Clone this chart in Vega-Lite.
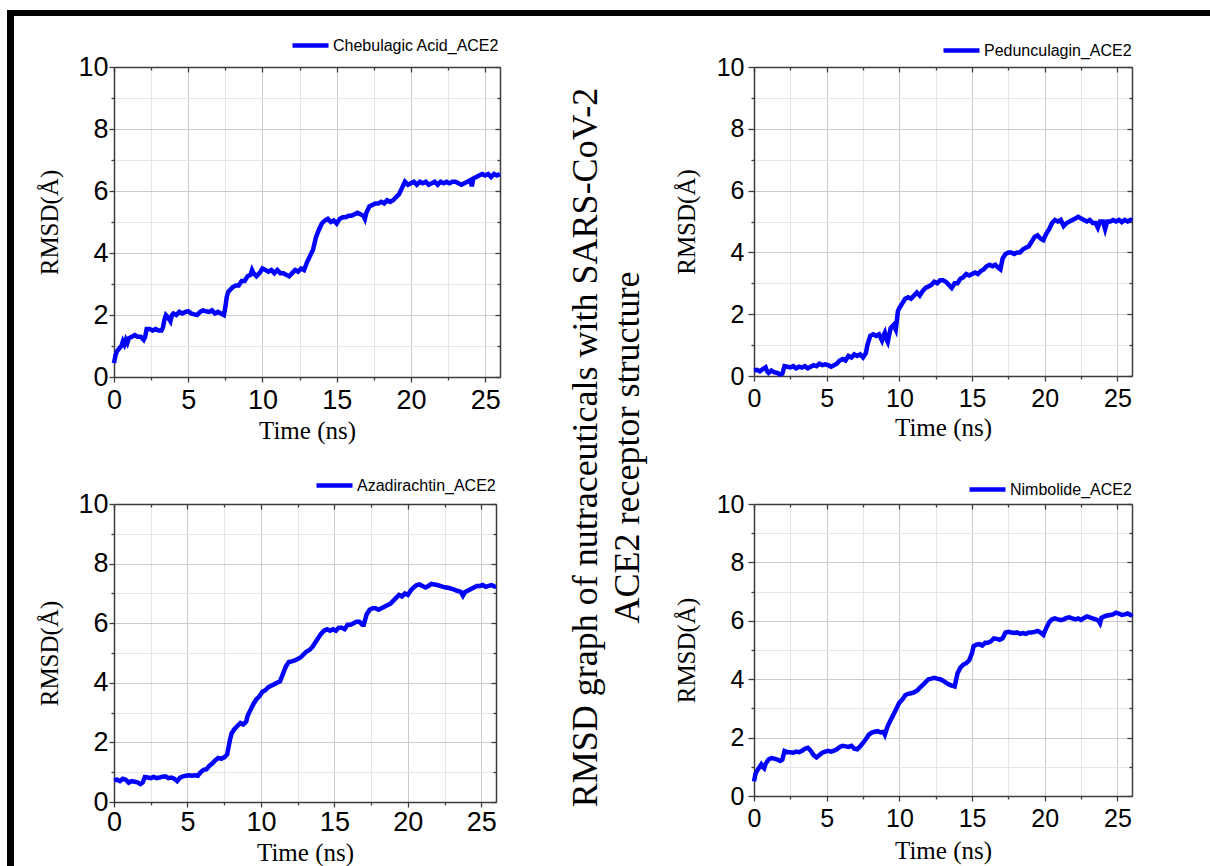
{
"$schema": "https://vega.github.io/schema/vega-lite/v6.json",
"padding": {"left": 7, "top": 10, "right": 0, "bottom": 0},
"background": "white",
"datasets": {
"frame": [{}],
"cheb": [{"t":0,"r":0.45},{"t":0.1,"r":0.7},{"t":0.2,"r":0.83},{"t":0.4,"r":0.95},{"t":0.5,"r":1.0},{"t":0.6,"r":1.15},{"t":0.7,"r":1.05},{"t":0.8,"r":1.2},{"t":0.9,"r":1.1},{"t":1.0,"r":1.25},{"t":1.2,"r":1.3},{"t":1.4,"r":1.35},{"t":1.6,"r":1.3},{"t":1.8,"r":1.3},{"t":2.0,"r":1.2},{"t":2.1,"r":1.3},{"t":2.2,"r":1.55},{"t":2.4,"r":1.55},{"t":2.6,"r":1.5},{"t":2.8,"r":1.55},{"t":3.0,"r":1.5},{"t":3.2,"r":1.5},{"t":3.3,"r":1.6},{"t":3.4,"r":1.85},{"t":3.5,"r":2.0},{"t":3.6,"r":1.95},{"t":3.8,"r":1.8},{"t":3.9,"r":2.0},{"t":4.0,"r":2.05},{"t":4.2,"r":2.0},{"t":4.4,"r":2.1},{"t":4.6,"r":2.05},{"t":4.8,"r":2.1},{"t":5.0,"r":2.12},{"t":5.2,"r":2.05},{"t":5.4,"r":2.02},{"t":5.6,"r":2.0},{"t":5.8,"r":2.1},{"t":6.0,"r":2.15},{"t":6.2,"r":2.12},{"t":6.4,"r":2.1},{"t":6.6,"r":2.15},{"t":6.8,"r":2.05},{"t":7.0,"r":2.1},{"t":7.2,"r":2.05},{"t":7.4,"r":2.0},{"t":7.5,"r":2.25},{"t":7.6,"r":2.6},{"t":7.7,"r":2.75},{"t":7.8,"r":2.8},{"t":8.0,"r":2.9},{"t":8.2,"r":2.95},{"t":8.4,"r":2.95},{"t":8.6,"r":3.1},{"t":8.8,"r":3.1},{"t":9.0,"r":3.25},{"t":9.2,"r":3.3},{"t":9.3,"r":3.45},{"t":9.4,"r":3.35},{"t":9.6,"r":3.25},{"t":9.8,"r":3.35},{"t":10.0,"r":3.5},{"t":10.2,"r":3.45},{"t":10.4,"r":3.4},{"t":10.6,"r":3.45},{"t":10.8,"r":3.35},{"t":11.0,"r":3.45},{"t":11.2,"r":3.35},{"t":11.4,"r":3.35},{"t":11.6,"r":3.3},{"t":11.8,"r":3.25},{"t":12.0,"r":3.35},{"t":12.2,"r":3.45},{"t":12.4,"r":3.4},{"t":12.6,"r":3.5},{"t":12.8,"r":3.45},{"t":13.0,"r":3.7},{"t":13.2,"r":3.9},{"t":13.4,"r":4.1},{"t":13.6,"r":4.5},{"t":13.8,"r":4.75},{"t":14.0,"r":4.95},{"t":14.2,"r":5.05},{"t":14.4,"r":5.1},{"t":14.6,"r":5.0},{"t":14.8,"r":5.05},{"t":15.0,"r":4.95},{"t":15.2,"r":5.1},{"t":15.4,"r":5.15},{"t":15.6,"r":5.15},{"t":15.8,"r":5.2},{"t":16.0,"r":5.2},{"t":16.2,"r":5.25},{"t":16.4,"r":5.3},{"t":16.6,"r":5.25},{"t":16.8,"r":5.2},{"t":16.9,"r":5.1},{"t":17.0,"r":5.3},{"t":17.2,"r":5.5},{"t":17.4,"r":5.55},{"t":17.6,"r":5.6},{"t":17.8,"r":5.6},{"t":18.0,"r":5.65},{"t":18.2,"r":5.6},{"t":18.4,"r":5.7},{"t":18.6,"r":5.65},{"t":18.8,"r":5.7},{"t":19.0,"r":5.8},{"t":19.2,"r":5.9},{"t":19.4,"r":6.1},{"t":19.6,"r":6.3},{"t":19.8,"r":6.2},{"t":20.0,"r":6.25},{"t":20.2,"r":6.3},{"t":20.4,"r":6.2},{"t":20.6,"r":6.3},{"t":20.8,"r":6.25},{"t":21.0,"r":6.3},{"t":21.2,"r":6.2},{"t":21.4,"r":6.25},{"t":21.6,"r":6.3},{"t":21.8,"r":6.2},{"t":22.0,"r":6.3},{"t":22.2,"r":6.25},{"t":22.4,"r":6.3},{"t":22.6,"r":6.25},{"t":22.8,"r":6.3},{"t":23.0,"r":6.3},{"t":23.2,"r":6.25},{"t":23.4,"r":6.2},{"t":23.6,"r":6.25},{"t":23.8,"r":6.3},{"t":24.0,"r":6.35},{"t":24.1,"r":6.15},{"t":24.2,"r":6.4},{"t":24.4,"r":6.45},{"t":24.6,"r":6.5},{"t":24.8,"r":6.55},{"t":25.0,"r":6.5},{"t":25.2,"r":6.55},{"t":25.4,"r":6.45},{"t":25.6,"r":6.55},{"t":25.8,"r":6.5},{"t":26.0,"r":6.55}],
"ped": [{"t":0,"r":0.18},{"t":0.2,"r":0.2},{"t":0.4,"r":0.15},{"t":0.6,"r":0.22},{"t":0.8,"r":0.28},{"t":0.9,"r":0.15},{"t":1.0,"r":0.1},{"t":1.2,"r":0.18},{"t":1.4,"r":0.12},{"t":1.6,"r":0.1},{"t":1.8,"r":0.05},{"t":1.95,"r":0.08},{"t":2.1,"r":0.32},{"t":2.3,"r":0.3},{"t":2.5,"r":0.28},{"t":2.7,"r":0.32},{"t":2.9,"r":0.25},{"t":3.1,"r":0.3},{"t":3.3,"r":0.27},{"t":3.5,"r":0.32},{"t":3.7,"r":0.25},{"t":3.9,"r":0.3},{"t":4.1,"r":0.35},{"t":4.3,"r":0.32},{"t":4.5,"r":0.4},{"t":4.7,"r":0.35},{"t":4.9,"r":0.38},{"t":5.1,"r":0.35},{"t":5.3,"r":0.3},{"t":5.5,"r":0.35},{"t":5.7,"r":0.4},{"t":5.9,"r":0.5},{"t":6.1,"r":0.55},{"t":6.3,"r":0.5},{"t":6.5,"r":0.65},{"t":6.7,"r":0.6},{"t":6.9,"r":0.7},{"t":7.1,"r":0.65},{"t":7.3,"r":0.7},{"t":7.5,"r":0.6},{"t":7.7,"r":0.75},{"t":7.8,"r":1.0},{"t":8.0,"r":1.3},{"t":8.2,"r":1.35},{"t":8.4,"r":1.3},{"t":8.6,"r":1.35},{"t":8.8,"r":1.15},{"t":8.9,"r":1.3},{"t":9.0,"r":1.4},{"t":9.1,"r":1.2},{"t":9.2,"r":1.1},{"t":9.4,"r":1.55},{"t":9.6,"r":1.65},{"t":9.75,"r":1.5},{"t":9.9,"r":2.1},{"t":10.0,"r":2.2},{"t":10.2,"r":2.35},{"t":10.4,"r":2.5},{"t":10.6,"r":2.55},{"t":10.8,"r":2.5},{"t":11.0,"r":2.6},{"t":11.2,"r":2.7},{"t":11.4,"r":2.6},{"t":11.6,"r":2.75},{"t":11.8,"r":2.85},{"t":12.0,"r":2.9},{"t":12.2,"r":2.95},{"t":12.4,"r":3.05},{"t":12.6,"r":3.0},{"t":12.8,"r":3.1},{"t":13.0,"r":3.1},{"t":13.2,"r":3.05},{"t":13.4,"r":2.95},{"t":13.6,"r":2.85},{"t":13.8,"r":3.0},{"t":14.0,"r":3.0},{"t":14.2,"r":3.15},{"t":14.4,"r":3.2},{"t":14.6,"r":3.3},{"t":14.8,"r":3.25},{"t":15.0,"r":3.3},{"t":15.2,"r":3.35},{"t":15.4,"r":3.3},{"t":15.6,"r":3.4},{"t":15.8,"r":3.45},{"t":16.0,"r":3.55},{"t":16.2,"r":3.6},{"t":16.4,"r":3.55},{"t":16.6,"r":3.6},{"t":16.8,"r":3.5},{"t":16.95,"r":3.45},{"t":17.1,"r":3.8},{"t":17.3,"r":3.95},{"t":17.5,"r":4.0},{"t":17.7,"r":4.0},{"t":17.9,"r":3.95},{"t":18.1,"r":4.0},{"t":18.3,"r":4.0},{"t":18.5,"r":4.1},{"t":18.7,"r":4.15},{"t":18.9,"r":4.2},{"t":19.1,"r":4.35},{"t":19.3,"r":4.5},{"t":19.5,"r":4.55},{"t":19.7,"r":4.45},{"t":19.9,"r":4.4},{"t":20.1,"r":4.6},{"t":20.3,"r":4.75},{"t":20.5,"r":4.95},{"t":20.7,"r":5.05},{"t":20.9,"r":5.0},{"t":21.1,"r":5.05},{"t":21.3,"r":4.85},{"t":21.5,"r":4.95},{"t":21.7,"r":5.0},{"t":21.9,"r":5.05},{"t":22.1,"r":5.1},{"t":22.3,"r":5.15},{"t":22.5,"r":5.1},{"t":22.7,"r":5.05},{"t":22.9,"r":5.0},{"t":23.1,"r":5.05},{"t":23.3,"r":4.95},{"t":23.5,"r":4.95},{"t":23.65,"r":4.8},{"t":23.8,"r":5.0},{"t":24.0,"r":5.0},{"t":24.15,"r":4.75},{"t":24.3,"r":5.0},{"t":24.5,"r":5.0},{"t":24.7,"r":5.05},{"t":24.9,"r":5.0},{"t":25.1,"r":5.05},{"t":25.3,"r":4.98},{"t":25.5,"r":5.05},{"t":25.7,"r":5.0},{"t":25.9,"r":5.05},{"t":26.0,"r":5.02}],
"aza": [{"t":0,"r":0.73},{"t":0.2,"r":0.75},{"t":0.4,"r":0.7},{"t":0.6,"r":0.78},{"t":0.8,"r":0.75},{"t":1.0,"r":0.65},{"t":1.2,"r":0.7},{"t":1.4,"r":0.68},{"t":1.6,"r":0.66},{"t":1.8,"r":0.6},{"t":1.95,"r":0.65},{"t":2.1,"r":0.84},{"t":2.3,"r":0.82},{"t":2.5,"r":0.8},{"t":2.7,"r":0.84},{"t":2.9,"r":0.8},{"t":3.1,"r":0.82},{"t":3.3,"r":0.85},{"t":3.5,"r":0.86},{"t":3.7,"r":0.8},{"t":3.9,"r":0.82},{"t":4.1,"r":0.78},{"t":4.3,"r":0.7},{"t":4.5,"r":0.82},{"t":4.7,"r":0.86},{"t":4.9,"r":0.88},{"t":5.1,"r":0.9},{"t":5.3,"r":0.88},{"t":5.5,"r":0.9},{"t":5.7,"r":0.88},{"t":5.9,"r":1.0},{"t":6.1,"r":1.08},{"t":6.3,"r":1.1},{"t":6.5,"r":1.22},{"t":6.7,"r":1.3},{"t":6.9,"r":1.4},{"t":7.1,"r":1.48},{"t":7.3,"r":1.45},{"t":7.5,"r":1.5},{"t":7.7,"r":1.6},{"t":7.8,"r":1.85},{"t":7.9,"r":2.1},{"t":8.0,"r":2.3},{"t":8.2,"r":2.45},{"t":8.4,"r":2.55},{"t":8.6,"r":2.65},{"t":8.8,"r":2.6},{"t":9.0,"r":2.7},{"t":9.1,"r":2.9},{"t":9.3,"r":3.1},{"t":9.5,"r":3.3},{"t":9.7,"r":3.45},{"t":9.9,"r":3.55},{"t":10.1,"r":3.7},{"t":10.3,"r":3.75},{"t":10.5,"r":3.85},{"t":10.7,"r":3.9},{"t":10.9,"r":3.95},{"t":11.1,"r":4.0},{"t":11.3,"r":4.05},{"t":11.5,"r":4.3},{"t":11.7,"r":4.55},{"t":11.9,"r":4.7},{"t":12.1,"r":4.72},{"t":12.3,"r":4.75},{"t":12.5,"r":4.8},{"t":12.7,"r":4.85},{"t":12.9,"r":4.95},{"t":13.1,"r":5.05},{"t":13.3,"r":5.1},{"t":13.5,"r":5.2},{"t":13.7,"r":5.35},{"t":13.9,"r":5.5},{"t":14.1,"r":5.65},{"t":14.3,"r":5.75},{"t":14.5,"r":5.8},{"t":14.7,"r":5.75},{"t":14.9,"r":5.8},{"t":15.1,"r":5.75},{"t":15.3,"r":5.85},{"t":15.5,"r":5.85},{"t":15.7,"r":5.8},{"t":15.9,"r":5.95},{"t":16.1,"r":5.95},{"t":16.3,"r":6.0},{"t":16.5,"r":6.05},{"t":16.7,"r":6.05},{"t":16.9,"r":5.95},{"t":17.0,"r":5.95},{"t":17.2,"r":6.3},{"t":17.4,"r":6.45},{"t":17.6,"r":6.5},{"t":17.8,"r":6.5},{"t":18.0,"r":6.45},{"t":18.2,"r":6.5},{"t":18.4,"r":6.55},{"t":18.6,"r":6.6},{"t":18.8,"r":6.65},{"t":19.0,"r":6.75},{"t":19.2,"r":6.85},{"t":19.4,"r":6.95},{"t":19.6,"r":6.9},{"t":19.8,"r":7.0},{"t":20.0,"r":6.95},{"t":20.2,"r":7.1},{"t":20.4,"r":7.2},{"t":20.6,"r":7.28},{"t":20.8,"r":7.3},{"t":21.0,"r":7.25},{"t":21.2,"r":7.2},{"t":21.4,"r":7.25},{"t":21.6,"r":7.32},{"t":21.8,"r":7.3},{"t":22.0,"r":7.28},{"t":22.2,"r":7.25},{"t":22.4,"r":7.22},{"t":22.6,"r":7.2},{"t":22.8,"r":7.18},{"t":23.0,"r":7.15},{"t":23.2,"r":7.12},{"t":23.4,"r":7.08},{"t":23.6,"r":7.05},{"t":23.75,"r":6.92},{"t":23.9,"r":7.05},{"t":24.1,"r":7.1},{"t":24.3,"r":7.15},{"t":24.5,"r":7.2},{"t":24.7,"r":7.25},{"t":24.9,"r":7.25},{"t":25.1,"r":7.28},{"t":25.3,"r":7.22},{"t":25.5,"r":7.25},{"t":25.7,"r":7.28},{"t":25.9,"r":7.23},{"t":26.0,"r":7.25}],
"nim": [{"t":0,"r":0.5},{"t":0.1,"r":0.75},{"t":0.2,"r":0.86},{"t":0.4,"r":1.0},{"t":0.5,"r":1.08},{"t":0.6,"r":1.0},{"t":0.7,"r":0.95},{"t":0.8,"r":1.1},{"t":1.0,"r":1.25},{"t":1.2,"r":1.3},{"t":1.4,"r":1.28},{"t":1.6,"r":1.25},{"t":1.8,"r":1.2},{"t":1.95,"r":1.25},{"t":2.1,"r":1.54},{"t":2.3,"r":1.5},{"t":2.5,"r":1.5},{"t":2.7,"r":1.48},{"t":2.9,"r":1.52},{"t":3.1,"r":1.5},{"t":3.3,"r":1.55},{"t":3.5,"r":1.62},{"t":3.7,"r":1.65},{"t":3.9,"r":1.55},{"t":4.1,"r":1.4},{"t":4.3,"r":1.32},{"t":4.5,"r":1.4},{"t":4.7,"r":1.48},{"t":4.9,"r":1.52},{"t":5.1,"r":1.55},{"t":5.3,"r":1.52},{"t":5.5,"r":1.55},{"t":5.7,"r":1.6},{"t":5.9,"r":1.68},{"t":6.1,"r":1.72},{"t":6.3,"r":1.7},{"t":6.5,"r":1.68},{"t":6.7,"r":1.72},{"t":6.9,"r":1.62},{"t":7.1,"r":1.6},{"t":7.3,"r":1.7},{"t":7.5,"r":1.82},{"t":7.7,"r":1.95},{"t":7.9,"r":2.1},{"t":8.1,"r":2.17},{"t":8.3,"r":2.2},{"t":8.5,"r":2.22},{"t":8.7,"r":2.18},{"t":8.9,"r":2.2},{"t":9.0,"r":2.1},{"t":9.2,"r":2.4},{"t":9.4,"r":2.6},{"t":9.6,"r":2.8},{"t":9.8,"r":3.0},{"t":10.0,"r":3.2},{"t":10.2,"r":3.3},{"t":10.4,"r":3.45},{"t":10.6,"r":3.5},{"t":10.8,"r":3.52},{"t":11.0,"r":3.55},{"t":11.2,"r":3.6},{"t":11.4,"r":3.7},{"t":11.6,"r":3.8},{"t":11.8,"r":3.9},{"t":12.0,"r":4.0},{"t":12.2,"r":4.02},{"t":12.4,"r":4.05},{"t":12.6,"r":4.02},{"t":12.8,"r":4.0},{"t":13.0,"r":3.95},{"t":13.2,"r":3.88},{"t":13.4,"r":3.82},{"t":13.6,"r":3.78},{"t":13.8,"r":3.75},{"t":14.0,"r":4.2},{"t":14.2,"r":4.4},{"t":14.4,"r":4.5},{"t":14.6,"r":4.55},{"t":14.8,"r":4.65},{"t":15.0,"r":4.9},{"t":15.1,"r":5.13},{"t":15.3,"r":5.18},{"t":15.5,"r":5.2},{"t":15.7,"r":5.15},{"t":15.9,"r":5.25},{"t":16.1,"r":5.25},{"t":16.3,"r":5.3},{"t":16.5,"r":5.4},{"t":16.7,"r":5.38},{"t":16.9,"r":5.35},{"t":17.1,"r":5.4},{"t":17.3,"r":5.6},{"t":17.5,"r":5.62},{"t":17.7,"r":5.6},{"t":17.9,"r":5.58},{"t":18.1,"r":5.6},{"t":18.3,"r":5.55},{"t":18.5,"r":5.58},{"t":18.7,"r":5.55},{"t":18.9,"r":5.6},{"t":19.1,"r":5.6},{"t":19.3,"r":5.62},{"t":19.5,"r":5.65},{"t":19.7,"r":5.6},{"t":19.9,"r":5.52},{"t":20.1,"r":5.75},{"t":20.3,"r":5.95},{"t":20.5,"r":6.05},{"t":20.7,"r":6.08},{"t":20.9,"r":6.05},{"t":21.1,"r":6.02},{"t":21.3,"r":6.05},{"t":21.5,"r":6.1},{"t":21.7,"r":6.12},{"t":21.9,"r":6.08},{"t":22.1,"r":6.05},{"t":22.3,"r":6.08},{"t":22.5,"r":6.03},{"t":22.7,"r":6.1},{"t":22.9,"r":6.15},{"t":23.1,"r":6.12},{"t":23.3,"r":6.08},{"t":23.5,"r":6.05},{"t":23.7,"r":6.0},{"t":23.8,"r":5.92},{"t":23.9,"r":6.1},{"t":24.1,"r":6.15},{"t":24.3,"r":6.18},{"t":24.5,"r":6.2},{"t":24.7,"r":6.22},{"t":24.9,"r":6.28},{"t":25.1,"r":6.25},{"t":25.3,"r":6.2},{"t":25.5,"r":6.22},{"t":25.7,"r":6.25},{"t":25.9,"r":6.2},{"t":26.0,"r":6.25}],
"caption": [{"caption": "RMSD graph of nutraceuticals with SARS-CoV-2\nACE2 receptor structure"}]
},
"bounds": "flush",
"align": "each",
"spacing": 0,
"columns": 8,
"resolve": {"scale": {"color": "independent"}, "legend": {"color": "independent"}},
"concat": [
{"width": 7, "height": 6, "data": {"name": "frame"}, "mark": {"type": "point", "opacity": 0}, "encoding": {}, "view": {"fill": "#000000", "stroke": null}},
{"width": 100, "height": 6, "data": {"name": "frame"}, "mark": {"type": "point", "opacity": 0}, "encoding": {}, "view": {"fill": "#000000", "stroke": null}},
{"width": 386, "height": 6, "data": {"name": "frame"}, "mark": {"type": "point", "opacity": 0}, "encoding": {}, "view": {"fill": "#000000", "stroke": null}},
{"width": 57, "height": 6, "data": {"name": "frame"}, "mark": {"type": "point", "opacity": 0}, "encoding": {}, "view": {"fill": "#000000", "stroke": null}},
{"width": 100, "height": 6, "data": {"name": "frame"}, "mark": {"type": "point", "opacity": 0}, "encoding": {}, "view": {"fill": "#000000", "stroke": null}},
{"width": 97, "height": 6, "data": {"name": "frame"}, "mark": {"type": "point", "opacity": 0}, "encoding": {}, "view": {"fill": "#000000", "stroke": null}},
{"width": 378, "height": 6, "data": {"name": "frame"}, "mark": {"type": "point", "opacity": 0}, "encoding": {}, "view": {"fill": "#000000", "stroke": null}},
{"width": 78, "height": 6, "data": {"name": "frame"}, "mark": {"type": "point", "opacity": 0}, "encoding": {}, "view": {"fill": "#000000", "stroke": null}},

{"width": 7, "height": 51, "data": {"name": "frame"}, "mark": {"type": "point", "opacity": 0}, "encoding": {}, "view": {"fill": "#000000", "stroke": null}},
{"width": 1, "height": 1, "data": {"name": "frame"}, "mark": {"type": "point", "opacity": 0}, "encoding": {}},
{"width": 1, "height": 1, "data": {"name": "frame"}, "mark": {"type": "point", "opacity": 0}, "encoding": {}},
{"width": 1, "height": 1, "data": {"name": "frame"}, "mark": {"type": "point", "opacity": 0}, "encoding": {}},
{"width": 1, "height": 1, "data": {"name": "frame"}, "mark": {"type": "point", "opacity": 0}, "encoding": {}},
{"width": 1, "height": 1, "data": {"name": "frame"}, "mark": {"type": "point", "opacity": 0}, "encoding": {}},
{"width": 1, "height": 1, "data": {"name": "frame"}, "mark": {"type": "point", "opacity": 0}, "encoding": {}},
{"width": 1, "height": 1, "data": {"name": "frame"}, "mark": {"type": "point", "opacity": 0}, "encoding": {}},

{"width": 7, "height": 310, "data": {"name": "frame"}, "mark": {"type": "point", "opacity": 0}, "encoding": {}, "view": {"fill": "#000000", "stroke": null}},
{"width": 1, "height": 1, "data": {"name": "frame"}, "mark": {"type": "point", "opacity": 0}, "encoding": {}},
{"width": 386, "height": 310, "data": {"name": "cheb"},
 "layer": [
  {"mark": {"type": "line", "opacity": 0},
   "encoding": {
    "x": {"field": "t", "type": "quantitative", "scale": {"domain": [0, 26], "nice": false, "zero": false}, "axis": {"orient": "top", "values": [0,2.5,5,7.5,10,12.5,15,17.5,20,22.5,25], "labels": false, "title": null, "grid": false, "tickSize": {"condition": {"test": "datum.value % 5 === 0", "value": -5}, "value": -3}}},
    "y": {"field": "r", "type": "quantitative", "scale": {"domain": [0, 10], "nice": false}, "axis": {"orient": "right", "values": [0,1,2,3,4,5,6,7,8,9,10], "labels": false, "title": null, "grid": false, "tickSize": {"condition": {"test": "datum.value % 2 === 0", "value": -5}, "value": -3}}}
   }},
  {"mark": {"type": "line", "strokeWidth": 4.5},
   "encoding": {
    "x": {"field": "t", "type": "quantitative", "axis": {"orient": "bottom", "values": [0,2.5,5,7.5,10,12.5,15,17.5,20,22.5,25], "labelExpr": "datum.value % 5 === 0 ? datum.label : ''", "labelOverlap": false, "labelFlush": false, "labelPadding": 5, "tickSize": {"condition": {"test": "datum.value % 5 === 0", "value": 5}, "value": 3}, "grid": true, "gridColor": {"condition": {"test": "datum.value % 5 === 0", "value": "#cccccc"}, "value": "#e6e6e6"}, "title": "Time (ns)", "titlePadding": 5}},
    "y": {"field": "r", "type": "quantitative", "axis": {"orient": "left", "values": [0,1,2,3,4,5,6,7,8,9,10], "labelExpr": "datum.value % 2 === 0 ? datum.label : ''", "labelOverlap": false, "labelFlush": false, "labelPadding": 1, "tickSize": {"condition": {"test": "datum.value % 2 === 0", "value": 5}, "value": 3}, "grid": true, "gridColor": {"condition": {"test": "datum.value % 2 === 0", "value": "#cccccc"}, "value": "#e6e6e6"}, "title": "RMSD(Å)", "titlePadding": 15}},
    "color": {"datum": "Chebulagic Acid_ACE2", "type": "nominal", "scale": {"range": ["#0000ff"]}, "legend": {"orient": "top", "title": null, "symbolType": "stroke", "symbolSize": 1296, "symbolStrokeWidth": 4.5, "labelFont": "Liberation Sans", "labelFontSize": 16, "labelColor": "#000000", "labelOffset": 2, "offset": 11, "padding": 0, "labelLimit": 400}}
   }}
 ],
 "resolve": {"axis": {"x": "independent", "y": "independent"}}
},
{"width": 1, "height": 1, "data": {"name": "frame"}, "mark": {"type": "point", "opacity": 0}, "encoding": {}},
{"width": 1, "height": 1, "data": {"name": "frame"}, "mark": {"type": "point", "opacity": 0}, "encoding": {}},
{"width": 1, "height": 1, "data": {"name": "frame"}, "mark": {"type": "point", "opacity": 0}, "encoding": {}},
{"width": 378, "height": 309, "data": {"name": "ped"},
 "layer": [
  {"mark": {"type": "line", "opacity": 0},
   "encoding": {
    "x": {"field": "t", "type": "quantitative", "scale": {"domain": [0, 26], "nice": false, "zero": false}, "axis": {"orient": "top", "values": [0,2.5,5,7.5,10,12.5,15,17.5,20,22.5,25], "labels": false, "title": null, "grid": false, "tickSize": {"condition": {"test": "datum.value % 5 === 0", "value": -5}, "value": -3}}},
    "y": {"field": "r", "type": "quantitative", "scale": {"domain": [0, 10], "nice": false}, "axis": {"orient": "right", "values": [0,1,2,3,4,5,6,7,8,9,10], "labels": false, "title": null, "grid": false, "tickSize": {"condition": {"test": "datum.value % 2 === 0", "value": -5}, "value": -3}}}
   }},
  {"mark": {"type": "line", "strokeWidth": 4.5},
   "encoding": {
    "x": {"field": "t", "type": "quantitative", "axis": {"orient": "bottom", "values": [0,2.5,5,7.5,10,12.5,15,17.5,20,22.5,25], "labelExpr": "datum.value % 5 === 0 ? datum.label : ''", "labelOverlap": false, "labelFlush": false, "labelFontSize": 25, "labelPadding": 5, "tickSize": {"condition": {"test": "datum.value % 5 === 0", "value": 5}, "value": 3}, "grid": true, "gridColor": {"condition": {"test": "datum.value % 5 === 0", "value": "#cccccc"}, "value": "#e6e6e6"}, "title": "Time (ns)", "titlePadding": 4}},
    "y": {"field": "r", "type": "quantitative", "axis": {"orient": "left", "values": [0,1,2,3,4,5,6,7,8,9,10], "labelExpr": "datum.value % 2 === 0 ? datum.label : ''", "labelOverlap": false, "labelFlush": false, "labelFontSize": 25, "labelPadding": 4, "tickSize": {"condition": {"test": "datum.value % 2 === 0", "value": 6}, "value": 3}, "grid": true, "gridColor": {"condition": {"test": "datum.value % 2 === 0", "value": "#cccccc"}, "value": "#e6e6e6"}, "title": "RMSD(Å)", "titlePadding": 17}},
    "color": {"datum": "Pedunculagin_ACE2", "type": "nominal", "scale": {"range": ["#0000ff"]}, "legend": {"orient": "top", "title": null, "symbolType": "stroke", "symbolSize": 1296, "symbolStrokeWidth": 4.5, "labelFont": "Liberation Sans", "labelFontSize": 16, "labelColor": "#000000", "labelOffset": 2, "offset": 6, "padding": 0, "labelLimit": 400}}
   }}
 ],
 "resolve": {"axis": {"x": "independent", "y": "independent"}}
},
{"width": 78, "height": 1, "data": {"name": "frame"}, "mark": {"type": "point", "opacity": 0}, "encoding": {}},

{"width": 7, "height": 127, "data": {"name": "frame"}, "mark": {"type": "point", "opacity": 0}, "encoding": {}, "view": {"fill": "#000000", "stroke": null}},
{"width": 1, "height": 1, "data": {"name": "frame"}, "mark": {"type": "point", "opacity": 0}, "encoding": {}},
{"width": 1, "height": 1, "data": {"name": "frame"}, "mark": {"type": "point", "opacity": 0}, "encoding": {}},
{"width": 1, "height": 1, "data": {"name": "frame"}, "mark": {"type": "point", "opacity": 0}, "encoding": {}},
{"width": 100, "height": 127, "data": {"name": "caption"},
 "mark": {"type": "text", "angle": 270, "font": "Liberation Serif", "fontSize": 36, "lineBreak": "\n", "lineHeight": 42, "align": "center", "baseline": "middle", "color": "#000000", "dx": -7, "dy": -21},
 "encoding": {"text": {"field": "caption"}}},
{"width": 1, "height": 1, "data": {"name": "frame"}, "mark": {"type": "point", "opacity": 0}, "encoding": {}},
{"width": 1, "height": 1, "data": {"name": "frame"}, "mark": {"type": "point", "opacity": 0}, "encoding": {}},
{"width": 1, "height": 1, "data": {"name": "frame"}, "mark": {"type": "point", "opacity": 0}, "encoding": {}},

{"width": 7, "height": 298, "data": {"name": "frame"}, "mark": {"type": "point", "opacity": 0}, "encoding": {}, "view": {"fill": "#000000", "stroke": null}},
{"width": 1, "height": 1, "data": {"name": "frame"}, "mark": {"type": "point", "opacity": 0}, "encoding": {}},
{"width": 382, "height": 298, "data": {"name": "aza"},
 "layer": [
  {"mark": {"type": "line", "opacity": 0},
   "encoding": {
    "x": {"field": "t", "type": "quantitative", "scale": {"domain": [0, 26], "nice": false, "zero": false}, "axis": {"orient": "top", "values": [0,2.5,5,7.5,10,12.5,15,17.5,20,22.5,25], "labels": false, "title": null, "grid": false, "tickSize": {"condition": {"test": "datum.value % 5 === 0", "value": -5}, "value": -3}}},
    "y": {"field": "r", "type": "quantitative", "scale": {"domain": [0, 10], "nice": false}, "axis": {"orient": "right", "values": [0,1,2,3,4,5,6,7,8,9,10], "labels": false, "title": null, "grid": false, "tickSize": {"condition": {"test": "datum.value % 2 === 0", "value": -5}, "value": -3}}}
   }},
  {"mark": {"type": "line", "strokeWidth": 4.5},
   "encoding": {
    "x": {"field": "t", "type": "quantitative", "axis": {"orient": "bottom", "values": [0,2.5,5,7.5,10,12.5,15,17.5,20,22.5,25], "labelExpr": "datum.value % 5 === 0 ? datum.label : ''", "labelOverlap": false, "labelFlush": false, "labelPadding": 2, "tickSize": {"condition": {"test": "datum.value % 5 === 0", "value": 5}, "value": 3}, "grid": true, "gridColor": {"condition": {"test": "datum.value % 5 === 0", "value": "#cccccc"}, "value": "#e6e6e6"}, "title": "Time (ns)", "titlePadding": 5}},
    "y": {"field": "r", "type": "quantitative", "axis": {"orient": "left", "values": [0,1,2,3,4,5,6,7,8,9,10], "labelExpr": "datum.value % 2 === 0 ? datum.label : ''", "labelOverlap": false, "labelFlush": false, "labelPadding": 1, "tickSize": {"condition": {"test": "datum.value % 2 === 0", "value": 5}, "value": 3}, "grid": true, "gridColor": {"condition": {"test": "datum.value % 2 === 0", "value": "#cccccc"}, "value": "#e6e6e6"}, "title": "RMSD(Å)", "titlePadding": 15}},
    "color": {"datum": "Azadirachtin_ACE2", "type": "nominal", "scale": {"range": ["#0000ff"]}, "legend": {"orient": "top", "title": null, "symbolType": "stroke", "symbolSize": 1296, "symbolStrokeWidth": 4.5, "labelFont": "Liberation Sans", "labelFontSize": 16, "labelColor": "#000000", "labelOffset": 2, "offset": 8, "padding": 0, "labelLimit": 400}}
   }}
 ],
 "resolve": {"axis": {"x": "independent", "y": "independent"}}
},
{"width": 1, "height": 1, "data": {"name": "frame"}, "mark": {"type": "point", "opacity": 0}, "encoding": {}},
{"width": 1, "height": 1, "data": {"name": "frame"}, "mark": {"type": "point", "opacity": 0}, "encoding": {}},
{"width": 1, "height": 1, "data": {"name": "frame"}, "mark": {"type": "point", "opacity": 0}, "encoding": {}},
{"width": 378, "height": 292, "data": {"name": "nim"},
 "layer": [
  {"mark": {"type": "line", "opacity": 0},
   "encoding": {
    "x": {"field": "t", "type": "quantitative", "scale": {"domain": [0, 26], "nice": false, "zero": false}, "axis": {"orient": "top", "values": [0,2.5,5,7.5,10,12.5,15,17.5,20,22.5,25], "labels": false, "title": null, "grid": false, "tickSize": {"condition": {"test": "datum.value % 5 === 0", "value": -5}, "value": -3}}},
    "y": {"field": "r", "type": "quantitative", "scale": {"domain": [0, 10], "nice": false}, "axis": {"orient": "right", "values": [0,1,2,3,4,5,6,7,8,9,10], "labels": false, "title": null, "grid": false, "tickSize": {"condition": {"test": "datum.value % 2 === 0", "value": -5}, "value": -3}}}
   }},
  {"mark": {"type": "line", "strokeWidth": 4.5},
   "encoding": {
    "x": {"field": "t", "type": "quantitative", "axis": {"orient": "bottom", "values": [0,2.5,5,7.5,10,12.5,15,17.5,20,22.5,25], "labelExpr": "datum.value % 5 === 0 ? datum.label : ''", "labelOverlap": false, "labelFlush": false, "labelFontSize": 25, "labelPadding": 5, "tickSize": {"condition": {"test": "datum.value % 5 === 0", "value": 5}, "value": 3}, "grid": true, "gridColor": {"condition": {"test": "datum.value % 5 === 0", "value": "#cccccc"}, "value": "#e6e6e6"}, "title": "Time (ns)", "titlePadding": 7}},
    "y": {"field": "r", "type": "quantitative", "axis": {"orient": "left", "values": [0,1,2,3,4,5,6,7,8,9,10], "labelExpr": "datum.value % 2 === 0 ? datum.label : ''", "labelOverlap": false, "labelFlush": false, "labelFontSize": 25, "labelPadding": 4, "tickSize": {"condition": {"test": "datum.value % 2 === 0", "value": 6}, "value": 3}, "grid": true, "gridColor": {"condition": {"test": "datum.value % 2 === 0", "value": "#cccccc"}, "value": "#e6e6e6"}, "title": "RMSD(Å)", "titlePadding": 17}},
    "color": {"datum": "Nimbolide_ACE2", "type": "nominal", "scale": {"range": ["#0000ff"]}, "legend": {"orient": "top", "title": null, "symbolType": "stroke", "symbolSize": 1296, "symbolStrokeWidth": 4.5, "labelFont": "Liberation Sans", "labelFontSize": 16, "labelColor": "#000000", "labelOffset": 2, "offset": 4, "padding": 0, "labelLimit": 400}}
   }}
 ],
 "resolve": {"axis": {"x": "independent", "y": "independent"}}
},
{"width": 1, "height": 1, "data": {"name": "frame"}, "mark": {"type": "point", "opacity": 0}, "encoding": {}},

{"width": 7, "height": 64, "data": {"name": "frame"}, "mark": {"type": "point", "opacity": 0}, "encoding": {}, "view": {"fill": "#000000", "stroke": null}},
{"width": 1, "height": 1, "data": {"name": "frame"}, "mark": {"type": "point", "opacity": 0}, "encoding": {}},
{"width": 1, "height": 1, "data": {"name": "frame"}, "mark": {"type": "point", "opacity": 0}, "encoding": {}},
{"width": 1, "height": 1, "data": {"name": "frame"}, "mark": {"type": "point", "opacity": 0}, "encoding": {}},
{"width": 1, "height": 1, "data": {"name": "frame"}, "mark": {"type": "point", "opacity": 0}, "encoding": {}},
{"width": 1, "height": 1, "data": {"name": "frame"}, "mark": {"type": "point", "opacity": 0}, "encoding": {}},
{"width": 1, "height": 1, "data": {"name": "frame"}, "mark": {"type": "point", "opacity": 0}, "encoding": {}},
{"width": 1, "height": 1, "data": {"name": "frame"}, "mark": {"type": "point", "opacity": 0}, "encoding": {}}
],
"config": {
 "view": {"stroke": null},
 "axis": {"domainColor": "#3c3c3c", "domainWidth": 1.5, "tickColor": "#3c3c3c", "tickWidth": 1.3, "labelFont": "Liberation Sans", "labelFontSize": 27, "labelColor": "#000000", "titleFont": "Liberation Serif", "titleFontSize": 25, "titleFontWeight": "normal", "titleColor": "#000000", "gridWidth": 1},
 "legend": {"layout": {"top": {"anchor": "end"}}}
}
}
